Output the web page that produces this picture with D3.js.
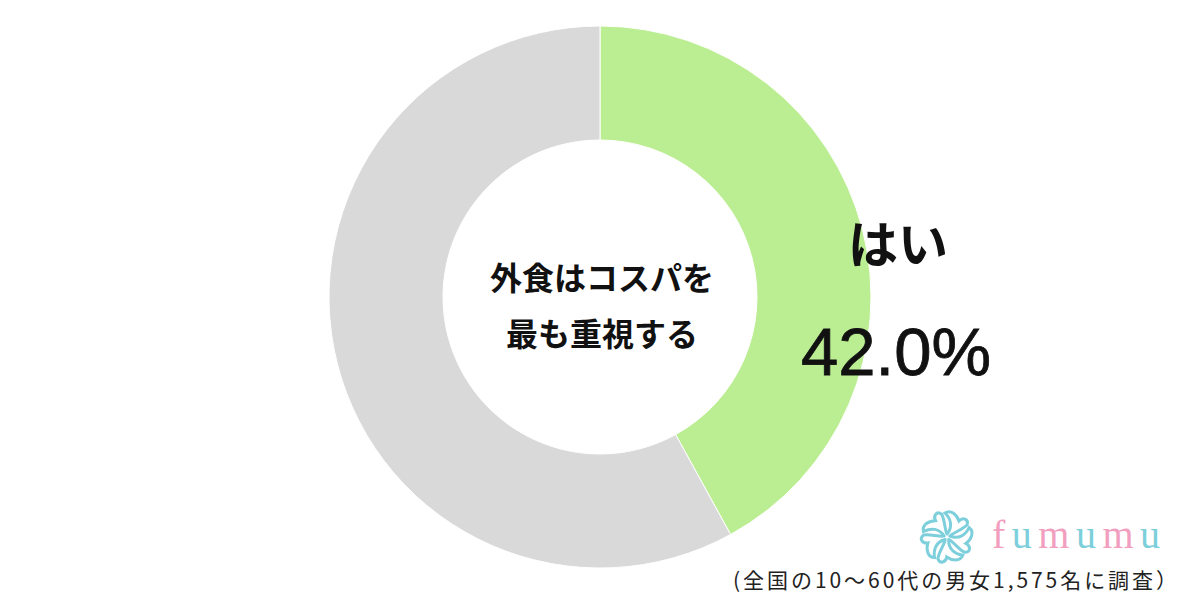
<!DOCTYPE html>
<html>
<head>
<meta charset="utf-8">
<script src="https://cdn.jsdelivr.net/npm/d3@7"></script>
<style>
  html, body { margin: 0; padding: 0; background: #fff; }
  svg { display: block; }
</style>
</head>
<body>
<svg id="chart" width="1200" height="600"></svg>
<script>
const categories = ["はい", "いいえ"];
const values = [42.0, 58.0];
const colors = ["#bbee92", "#d9d9d9"];
const centerLines = ["外食はコスパを", "最も重視する"];
const footnote = "(全国の10〜60代の男女1,575名に調査）";
const logoLetters = ["f", "u", "m", "u", "m", "u"];

const svg = d3.select("#chart");
const cx = 600, cy = 297, outerR = 271, innerR = 157;

const data = categories.map((c, i) => ({ category: c, value: values[i], color: colors[i] }));
const pie = d3.pie().sort(null).value(d => d.value);
const arc = d3.arc().innerRadius(innerR).outerRadius(outerR);

const g = svg.append("g").attr("transform", `translate(${cx},${cy})`);
g.selectAll("path.slice")
  .data(pie(data))
  .join("path")
  .attr("class", "slice")
  .attr("d", arc)
  .attr("fill", d => d.data.color)
  .attr("stroke", "#fff")
  .attr("stroke-width", 1);

// center text
const jp = "'Noto Sans CJK JP', 'Noto Sans', sans-serif";
g.append("text")
  .attr("text-anchor", "middle")
  .attr("font-family", jp)
  .attr("font-weight", 700)
  .attr("font-size", 32)
  .attr("fill", "#111")
  .selectAll("tspan")
  .data(centerLines)
  .join("tspan")
  .attr("x", 2)
  .attr("y", (d, i) => -7 + i * 56)
  .text(d => d);

// label for first slice
const first = data[0];
svg.append("text")
  .attr("x", 898).attr("y", 263)
  .attr("text-anchor", "middle")
  .attr("font-family", jp)
  .attr("font-weight", 700)
  .attr("font-size", 50)
  .attr("fill", "#111")
  .text(first.category);
svg.append("text")
  .attr("x", 896).attr("y", 375)
  .attr("text-anchor", "middle")
  .attr("font-family", "'Liberation Sans', Arial, sans-serif")
  .attr("font-size", 67)
  .attr("fill", "#111")
  .attr("stroke", "#111")
  .attr("stroke-width", 0.8)
  .text(first.value.toFixed(1) + "%");

// footnote
svg.append("text")
  .attr("x", 733).attr("y", 588)
  .attr("font-family", jp)
  .attr("font-size", 21)
  .attr("fill", "#222")
  .attr("textLength", 444)
  .attr("lengthAdjust", "spacing")
  .text(footnote);

// logo text
const logoColors = ["#f29ebf", "#7dcfdc"];
svg.append("text")
  .attr("x", 992)
  .attr("y", 548)
  .attr("font-family", "'Liberation Serif', 'DejaVu Serif', serif")
  .attr("font-size", 40)
  .attr("letter-spacing", 6.5)
  .selectAll("tspan")
  .data(logoLetters)
  .join("tspan")
  .attr("fill", (d, i) => logoColors[i % 2])
  .text(d => d);

// logo flower (decorative)
const fl = svg.append("g").attr("transform", "translate(947,537)");
for (let k = 0; k < 5; k++) {
  const a = k * 72;
  fl.append("path")
    .attr("transform", `rotate(${a})`)
    .attr("d", "M0,-3 C6,-10 4,-18 -2,-24 C4,-28 10,-22 12,-16 C16,-20 22,-18 20,-12 C16,-8 10,-6 4,-2")
    .attr("fill", "none")
    .attr("stroke", "#7dcfdc")
    .attr("stroke-width", 3)
    .attr("stroke-linecap", "round");
}
</script>
</body>
</html>
